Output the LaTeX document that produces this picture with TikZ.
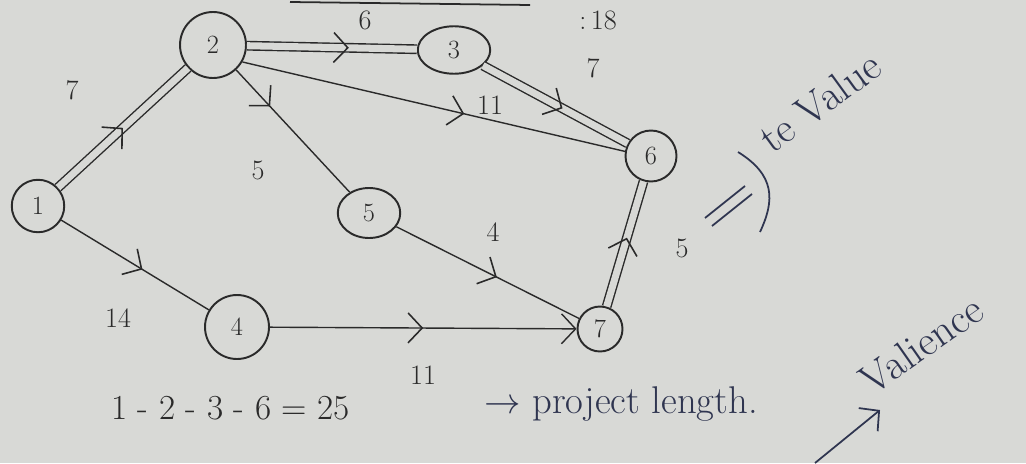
\documentclass[tikz,border=0pt]{standalone}
\usetikzlibrary{arrows.meta,decorations.markings,shapes.geometric}
\definecolor{paper}{HTML}{D8D9D6}
\definecolor{ink}{HTML}{2A2A2A}
\definecolor{blueink}{HTML}{2F3550}
\tikzset{
  x=0.02cm, y=-0.02cm,
  ev/.style={circle, draw=ink, line width=1.1pt, inner sep=0pt, font=\fontsize{15}{17}\selectfont, text=ink},
  evo/.style={ellipse, draw=ink, line width=1.1pt, inner sep=0pt, font=\fontsize{15}{17}\selectfont, text=ink},
  edge/.style={draw=ink, line width=0.8pt},
  crit/.style={draw=ink, line width=0.8pt, double=paper, double distance=4pt},
  chev/.tip={Straight Barb[length=8pt,width=17pt]},
  midarrow/.style={postaction={decorate, decoration={markings,
      mark=at position #1 with {\arrow[ink, line width=0.9pt]{chev}}}}},
  wt/.style={font=\fontsize{16}{18}\selectfont, text=ink},
  note/.style={font=\fontsize{24}{26}\selectfont, text=blueink},
}
\begin{document}
\begin{tikzpicture}
\fill[paper] (0,0) rectangle (1026,463);
\useasboundingbox (0,0) rectangle (1026,463);

% events
\node[ev, minimum size=1.05cm]  (n1) at (38,206) {1};
\node[ev, minimum size=1.32cm] (n2) at (213,45) {2};
\node[evo, minimum width=1.45cm, minimum height=0.95cm] (n3) at (454,50) {3};
\node[evo, minimum width=1.25cm, minimum height=1.0cm]  (n5) at (369,213) {5};
\node[ev, minimum size=1.28cm] (n4) at (237,327) {4};
\node[ev, minimum size=1.02cm] (n6) at (651,156) {6};
\node[ev, minimum size=0.9cm] (n7) at (600,329) {7};

% activities
\path[crit, midarrow=0.5] (n1) -- (n2);
\path[crit, midarrow=0.6] (n2) -- (n3);
\path[crit, midarrow=0.55] (n3) -- (n6);
\path[crit, midarrow=0.55] (n7) -- (n6);
\path[edge, midarrow=0.58] (n2.-30) -- (n6.170);
\path[edge, midarrow=0.3] (n2) -- (n5);
\path[edge, midarrow=0.55] (n5) -- (n7);
\path[edge, midarrow=0.55] (n1) -- (n4);
\path[edge, midarrow=0.5, -chev] (n4) -- (n7);

% weights
\node[wt] (w12) at (72,90) {7};
\node[wt] (w23) at (365,20) {6};
\node[wt] (w36) at (593,68) {7};
\node[wt] (w26) at (490,105) {11};
\node[wt] (w25) at (258,170) {5};
\node[wt] (w57) at (493,232) {4};
\node[wt] (w14) at (118,318) {14};
\node[wt] (w47) at (423,375) {11};
\node[wt] (w76) at (682,248) {5};

% top partial line and note
\coordinate (t1) at (290,2);
\coordinate (t2) at (530,5);
\draw[ink, line width=1pt] (t1) -- (t2);
\node[wt] (top) at (598,20) {:\,18};

% te value note
\coordinate (d1) at (705,218);
\coordinate (d2) at (745,186);
\coordinate (d3) at (712,226);
\coordinate (d4) at (752,194);
\coordinate (b1) at (738,152);
\coordinate (b2) at (760,232);
\draw[blueink, line width=1pt] (d1) -- (d2);
\draw[blueink, line width=1pt] (d3) -- (d4);
\draw[blueink, line width=1pt] (b1) .. controls (775,175) and (775,200) .. (b2);
\node[note, rotate=36, anchor=south west, inner sep=1pt] (tev) at (772,158) {te Value};

% bottom
\node[wt, anchor=west, font=\fontsize{20}{22}\selectfont] (path) at (105,408) {1 - 2 - 3 - 6 = 25};
\node[note, anchor=west, font=\fontsize{22}{24}\selectfont] (plen) at (478,404) {$\rightarrow$ project length.};

% variance
\node[note, rotate=35, anchor=south west, inner sep=1pt] (var) at (872,400) {Valience};
\coordinate (a1) at (815,463);
\coordinate (a2) at (880,410);
\draw[blueink, line width=1pt, -chev] (a1) -- (a2);
\end{tikzpicture}
\end{document}
